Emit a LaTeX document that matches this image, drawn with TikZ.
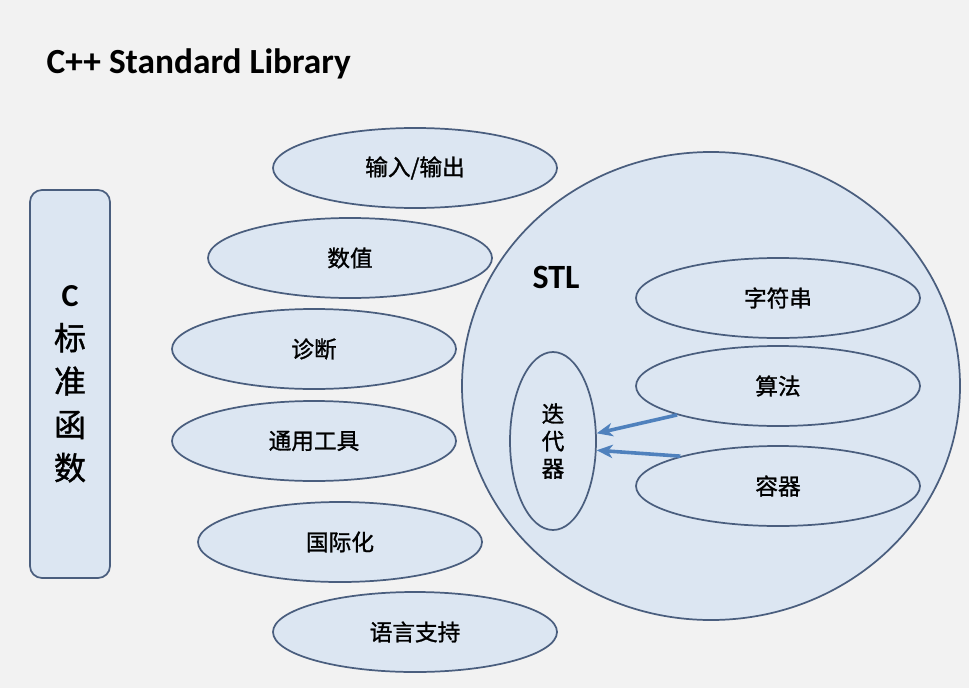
\documentclass[tikz,border=0pt]{standalone}
\usepackage{fontspec}
\setmainfont{Carlito}
\newfontfamily\cjk{Noto Sans CJK SC}[FakeBold=1.2]
\usepackage{xcolor}
\usetikzlibrary{shapes.geometric,arrows.meta}
\definecolor{bgpage}{HTML}{F2F2F2}
\definecolor{shapefill}{HTML}{DCE6F2}
\definecolor{shapeline}{HTML}{4A5E7E}
\definecolor{arrowblue}{HTML}{4F81BD}

\begin{document}
\begin{tikzpicture}[x=0.75pt,y=-0.75pt,
  oval/.style={ellipse,draw=shapeline,fill=shapefill,line width=1.3pt,
    minimum width=213pt,minimum height=60pt,inner sep=0pt,
    font=\cjk\fontsize{17}{18}\selectfont},
  linkarrow/.style={draw=arrowblue,line width=2.7pt,
    -{Stealth[length=12pt,width=10pt,inset=3.5pt]}}]
  \fill[bgpage] (0,0) rectangle (969,688);
  \useasboundingbox (0,0) rectangle (969,688);
  \node[anchor=west,font=\bfseries\fontsize{26.5}{30}\selectfont] (title) at (42,64) {C++ Standard Library};
  \node[draw=shapeline,fill=shapefill,line width=1.3pt,rounded corners=9pt,
    minimum width=60pt,minimum height=291pt,inner sep=0pt,align=center,
    font=\fontsize{24}{32.5}\selectfont] (cbox) at (70,384)
    {\textbf{C}\\\cjk 标\\\cjk 准\\\cjk 函\\\cjk 数};
  \node[oval] (io) at (415,168) {输入/输出};
  \node[oval] (shuzhi) at (350,258) {数值};
  \node[oval] (zhenduan) at (314,349) {诊断};
  \node[oval] (gongju) at (314,441) {通用工具};
  \node[oval] (guoji) at (340,542) {国际化};
  \node[oval] (yuyan) at (415,632) {语言支持};
  \node[ellipse,draw=shapeline,fill=shapefill,line width=1.3pt,
    minimum width=373.5pt,minimum height=351pt] (stl) at (711,386) {};
  \node[font=\bfseries\fontsize{25.5}{28}\selectfont] (stlname) at (556,277) {STL};
  \node[oval] (zifu) at (778,298) {字符串};
  \node[oval] (suanfa) at (778,386) {算法};
  \node[oval] (rongqi) at (778,486) {容器};
  \node[oval,minimum width=64.5pt,minimum height=133.5pt,align=center,
    font=\cjk\fontsize{17}{20.5}\selectfont] (diedai) at (553,441) {迭\\代\\器};
  \draw[linkarrow] (suanfa.-164) -- (diedai.10);
  \draw[linkarrow] (rongqi.163) -- (diedai.-12);
\end{tikzpicture}
\end{document}
